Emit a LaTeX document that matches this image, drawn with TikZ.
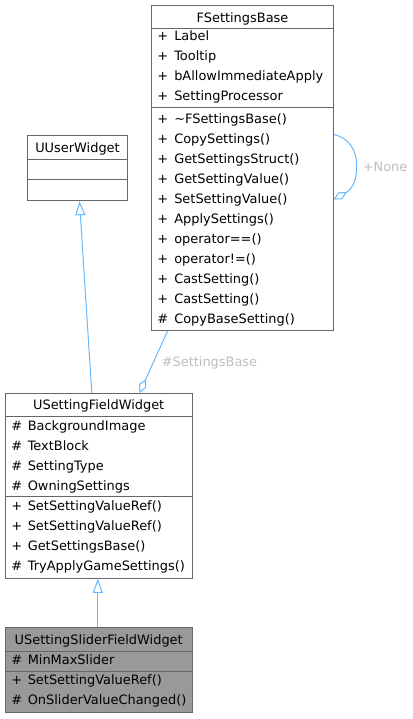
\documentclass[tikz,border=0pt]{standalone}
\usepackage{fontspec}
\setmainfont{DejaVu Sans}
\usetikzlibrary{arrows.meta,fit,calc}
\definecolor{edgeblue}{HTML}{63B8FF}
\definecolor{boxline}{HTML}{666666}
\definecolor{lblgray}{HTML}{BEBEBE}
\definecolor{hifill}{HTML}{999999}
\tikzset{
  umlbox/.style={draw=boxline, line width=0.75pt, inner sep=0pt, fill=white},
  sepline/.style={draw=boxline, line width=0.75pt},
  txt/.style={anchor=base west, inner sep=0pt, font=\fontsize{9.7}{12}\selectfont},
  ttl/.style={anchor=base, inner sep=0pt, font=\fontsize{9.7}{12}\selectfont},
  edgeline/.style={draw=edgeblue, line width=0.75pt},
  inh/.style={edgeline, -{Triangle[open, length=10.5pt, width=7.5pt]}},
  agg/.style={edgeline, -{Diamond[open, length=11.25pt, width=6pt]}},
  elabel/.style={anchor=base west, inner sep=0pt, text=lblgray, font=\fontsize{9.7}{12}\selectfont}
}
\begin{document}
\begin{tikzpicture}[x=0.75pt,y=-0.75pt]
\useasboundingbox (0,0) rectangle (412,719);

% ---------- FSettingsBase ----------
\node[umlbox, fit={(151.7,5) (333.3,330.7)}] (base) {};
\draw[sepline] (151.7,28.3) -- (333.3,28.3);
\draw[sepline] (151.7,107.7) -- (333.3,107.7);
\node[ttl] (basettl) at (242.5,22) {FSettingsBase};
\foreach \s/\t [count=\i from 0] in {+/Label, +/Tooltip, +/bAllowImmediateApply, +/SettingProcessor} {
  \node[txt] (bas\i) at (157,40.7+20*\i) {\s};
  \node[txt] (ban\i) at (174,40.7+20*\i) {\t};
}
\foreach \s/\t [count=\i from 0] in {+/\textasciitilde FSettingsBase(), +/CopySettings(), +/GetSettingsStruct(), +/GetSettingValue(), +/SetSettingValue(), +/ApplySettings(), +/operator==(), +/operator!=(), +/CastSetting(), +/CastSetting(), \#/CopyBaseSetting()} {
  \node[txt] (bms\i) at (157,123+20*\i) {\s};
  \node[txt] (bmn\i) at (174,123+20*\i) {\t};
}

% ---------- UUserWidget ----------
\node[umlbox, fit={(27.3,135) (127.7,200.7)}] (uw) {};
\draw[sepline] (27.3,159) -- (127.7,159);
\draw[sepline] (27.3,179) -- (127.7,179);
\node[ttl] (uwttl) at (77.5,152) {UUserWidget};

% ---------- USettingFieldWidget ----------
\node[umlbox, fit={(5,393.3) (192.3,578.3)}] (sfw) {};
\draw[sepline] (5,416.7) -- (192.3,416.7);
\draw[sepline] (5,496.7) -- (192.3,496.7);
\node[ttl] (sfwttl) at (98.7,409.7) {USettingFieldWidget};
\foreach \s/\t [count=\i from 0] in {\#/BackgroundImage, \#/TextBlock, \#/SettingType, \#/OwningSettings} {
  \node[txt] (sas\i) at (11,430.4+20*\i) {\s};
  \node[txt] (san\i) at (27.5,430.4+20*\i) {\t};
}
\foreach \s/\t [count=\i from 0] in {+/SetSettingValueRef(), +/SetSettingValueRef(), +/GetSettingsBase(), \#/TryApplyGameSettings()} {
  \node[txt] (sms\i) at (11,510.4+20*\i) {\s};
  \node[txt] (smn\i) at (27.5,510.4+20*\i) {\t};
}

% ---------- USettingSliderFieldWidget ----------
\node[umlbox, fill=hifill, fit={(5,627.7) (192.3,712.7)}] (slider) {};
\draw[sepline] (5,651) -- (192.3,651);
\draw[sepline] (5,671) -- (192.3,671);
\node[ttl] (sliderttl) at (98.7,644.7) {USettingSliderFieldWidget};
\node[txt] (ss0) at (11,664.7) {\#};
\node[txt] (sn0) at (27.5,664.7) {MinMaxSlider};
\node[txt] (ss1) at (11,684.7) {+};
\node[txt] (sn1) at (27.5,684.7) {SetSettingValueRef()};
\node[txt] (ss2) at (11,704.7) {\#};
\node[txt] (sn2) at (27.5,704.7) {OnSliderValueChanged()};

% ---------- connectors ----------
\draw[inh] ($(sfw.north west)+(87.3,0)$) -- ($(uw.south west)+(52.7,0)$);
\draw[inh] ($(slider.north west)+(93.3,0)$) -- ($(sfw.south west)+(93.3,0)$);
\draw[agg] ($(base.south west)+(16.3,0)$) -- ($(sfw.north west)+(135,0)$);
\node[elabel] (lblsb) at (161.5,366) {\#SettingsBase};
\draw[agg] ($(base.north east)+(0,130)$) .. controls (349,138) and (357,150) .. (356.7,166.7)
  .. controls (356.7,181) and (352,189) .. ($(base.north east)+(0,195)$);
\node[elabel] (lblnone) at (362.5,171.7) {+None};
\end{tikzpicture}
\end{document}
